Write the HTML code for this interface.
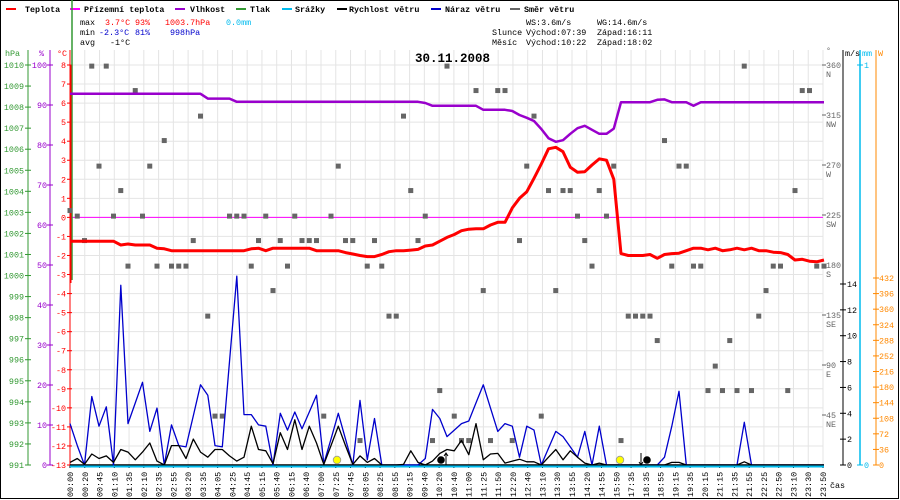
<!DOCTYPE html>
<html><head><meta charset="utf-8"><style>
html,body{margin:0;padding:0;background:#fff}
svg{display:block}
text{font-family:"Liberation Mono",monospace;font-size:8.4px}
</style></head><body>
<svg id="chart" width="900" height="500" viewBox="0 0 900 500" xmlns="http://www.w3.org/2000/svg">
<rect x="0.5" y="0.5" width="898" height="498" fill="#fff" stroke="#000"/>
<g id="grid"></g>
<g id="legend">
 <g><rect x="6" y="8" width="10" height="2" fill="#f00"/><text x="25" y="12" font-weight="bold">Teplota</text></g>
 <g><rect x="70" y="8" width="10" height="2" fill="#f0f"/><text x="84" y="12" font-weight="bold">Přízemní teplota</text></g>
 <g><rect x="175" y="8" width="10" height="2" fill="#9900cc"/><text x="190" y="12" font-weight="bold">Vlhkost</text></g>
 <g><rect x="236" y="8" width="10" height="2" fill="#339933"/><text x="250" y="12" font-weight="bold">Tlak</text></g>
 <g><rect x="282" y="8" width="10" height="2" fill="#00bbee"/><text x="295" y="12" font-weight="bold">Srážky</text></g>
 <g><rect x="337" y="8" width="10" height="2" fill="#000"/><text x="349" y="12" font-weight="bold">Rychlost větru</text></g>
 <g><rect x="431" y="8" width="10" height="2" fill="#0000cc"/><text x="445" y="12" font-weight="bold">Náraz větru</text></g>
 <g><rect x="510" y="8" width="10" height="2" fill="#666"/><text x="524" y="12" font-weight="bold">Směr větru</text></g>
</g>
<g>
 <text x="80" y="25">max</text><text x="105" y="25" fill="#f00">3.7°C</text><text x="135" y="25" fill="#f00">93%</text><text x="165" y="25" fill="#f00">1003.7hPa</text><text x="226" y="25" fill="#00bbee">0.0mm</text>
 <text x="80" y="35">min</text><text x="99" y="35" fill="#00c">-2.3°C</text><text x="135" y="35" fill="#00c">81%</text><text x="170" y="35" fill="#00c">998hPa</text>
 <text x="80" y="45">avg</text><text x="110" y="45">-1°C</text>
 <text x="526" y="25">WS:3.6m/s</text><text x="597" y="25">WG:14.6m/s</text>
 <text x="492" y="35">Slunce</text><text x="526" y="35">Východ:07:39</text><text x="597" y="35">Západ:16:11</text>
 <text x="492" y="45">Měsíc</text><text x="526" y="45">Východ:10:22</text><text x="597" y="45">Západ:18:02</text>
</g>
<text x="415" y="62" font-size="12.5" font-weight="bold" style="font-size:12.5px">30.11.2008</text>
<g id="axes"></g>
<g id="series"></g>
</svg>
<script>
const timeLabels=["00:00","00:20","00:45","01:10","01:35","02:10","02:35","02:55","03:20","03:35","04:05","04:25","04:45","05:15","05:40","06:15","06:40","07:00","07:25","07:45","08:05","08:25","08:55","09:15","09:40","10:20","10:40","11:00","11:25","11:50","12:20","12:40","13:10","13:30","13:55","14:20","14:55","15:50","17:35","18:35","18:55","19:15","19:35","20:15","21:15","21:35","21:55","22:25","22:50","23:10","23:30","23:50"];
const temperature=[-1.25,-1.25,-1.25,-1.25,-1.25,-1.25,-1.25,-1.45,-1.4,-1.45,-1.45,-1.45,-1.62,-1.65,-1.75,-1.75,-1.75,-1.75,-1.75,-1.75,-1.75,-1.75,-1.75,-1.75,-1.75,-1.65,-1.62,-1.75,-1.62,-1.62,-1.62,-1.62,-1.62,-1.62,-1.75,-1.75,-1.75,-1.75,-1.85,-1.92,-2.0,-2.06,-2.06,-1.95,-1.8,-1.75,-1.75,-1.72,-1.68,-1.5,-1.45,-1.25,-1.05,-0.9,-0.7,-0.62,-0.6,-0.6,-0.4,-0.26,-0.26,0.5,1.0,1.35,2.05,2.8,3.6,3.68,3.45,2.63,2.37,2.4,2.75,3.07,3.0,2.0,-1.9,-2.0,-2.0,-2.0,-1.95,-2.15,-1.95,-1.9,-1.88,-1.75,-1.62,-1.62,-1.7,-1.62,-1.75,-1.7,-1.62,-1.7,-1.62,-1.75,-1.75,-1.83,-1.85,-1.95,-2.24,-2.2,-2.3,-2.33,-2.24];
const humidity=[92.8,92.8,92.8,92.8,92.8,92.8,92.8,92.8,92.8,92.8,92.8,92.8,92.8,92.8,92.8,92.8,92.8,92.8,92.8,91.6,91.6,91.6,91.6,90.8,90.8,90.8,90.8,90.8,90.8,90.8,90.8,90.8,90.8,90.8,90.8,90.8,90.8,90.8,90.8,90.8,90.8,90.8,90.8,90.8,90.8,90.8,90.8,90.8,90.8,90.5,89.8,89.8,89.8,89.8,89.8,89.8,89.8,88.8,88.8,88.8,88.8,88.5,87.5,86.8,86,84,81.7,80.8,81.2,82.8,84.2,84.8,83.8,82.8,82.8,84.1,90.7,90.7,90.7,90.7,90.7,91.3,91.4,90.7,90.7,90.7,89.8,90.7,90.7,90.7,90.7,90.7,90.7,90.7,90.7,90.7,90.7,90.7,90.7,90.7,90.7,90.7,90.7,90.7,90.7];
const windSpeed=[0.2,0.5,0.05,0.85,0.5,0.7,0.2,1.2,1.0,0.4,1.0,1.7,0.3,0,1.5,1.5,0.5,2.0,1.0,0.6,1.2,1.2,0.7,0.3,0.6,3.0,1.2,1.1,0.1,2.5,1.2,3.5,1.2,3.0,1.7,0.05,1.5,3.0,1.5,0.05,0.7,0.2,0.5,0,0,0,0.05,1.1,0.2,0,0.3,0.9,1.2,1.1,1.9,0.8,3.2,0.4,0.85,0.9,0.15,0.3,0.45,0.25,0.25,0,0.6,1.2,0.4,1.1,0.6,0.15,0,0.15,0,0,0,0,0,0,0,0,0,0.2,0.2,0,0,0,0,0,0,0,0,0.25,0,0,0,0,0,0,0,0,0,0,0];
const windGust=[3.2,1.5,0,5.3,3.0,4.5,0,13.9,3.2,4.8,6.4,2.6,4.4,0,3.1,1.5,1.4,3.8,6.2,5.4,1.5,1.4,8,14.6,3.9,3.9,3.1,3.0,0,4,2.7,4.1,2.8,4.1,5.4,0.1,2,4,2,0,5,0.4,3.6,0,0,0,0,0,0,0.5,4.3,3.6,2.2,2.7,3.2,3.4,4.8,6.2,4.4,2.6,3.2,3,0.6,3,2.7,0,1.3,2.6,2.2,1.4,0.6,2.6,0,3,0,0,0,0,0,0,0,0,0.6,3.0,5.7,0,0,0,0,0,0,0,0,3.3,0,0,0,0,0,0,0,0,0,0,0];
const windDir=[229,224,202,359,269,359,224,247,179,337,224,269,179,292,179,179,179,202,314,134,44,44,224,224,224,179,202,224,157,202,179,224,202,202,202,44,224,269,202,202,22,179,202,179,134,134,314,247,202,224,22,67,359,44,22,22,337,157,22,337,337,22,202,269,314,44,247,157,247,247,224,202,179,247,224,269,22,134,134,134,134,112,292,179,269,269,179,179,67,89,67,112,67,359,67,134,157,179,179,67,247,337,337,179,179];
const tempTicks=[8,7,6,5,4,3,2,1,0,-1,-2,-3,-4,-5,-6,-7,-8,-9,-10,-11,-12,-13];
const humTicks=[100,90,80,70,60,50,40,30,20,10,0];
const pressTicks=[1010,1009,1008,1007,1006,1005,1004,1003,1002,1001,1000,999,998,997,996,995,994,993,992,991];
const dirTicks=[360,315,270,225,180,135,90,45];
const dirNames=["N","NW","W","SW","S","SE","E","NE"];
const msTicks=[0,2,4,6,8,10,12,14];
const wTicks=[0,36,72,108,144,180,216,252,288,324,360,396,432];

const NS="http://www.w3.org/2000/svg";
const X0=70,X1=824,YT=65,YB=465;
const nS=temperature.length;
const xs=k=>X0+k*(X1-X0)/(nS-1);
const xl=i=>X0+i*(823-X0)/(timeLabels.length-1);
const yT=v=>YT+(8-v)*(YB-YT)/21;
const yH=v=>YB-v*(YB-YT)/100;
const yP=v=>YT+(1010-v)*(YB-YT)/19;
const yD=v=>YB-v*(YB-YT)/360;
const yM=v=>YB-v*(YB-284)/14;
const yW=v=>YB-v*(YB-278)/432;
function mk(tag,attrs,parent,txt){const e=document.createElementNS(NS,tag);for(const k in attrs)e.setAttribute(k,attrs[k]);if(txt!==undefined)e.textContent=txt;parent.appendChild(e);return e;}
const grid=document.getElementById('grid'),axes=document.getElementById('axes'),ser=document.getElementById('series');

tempTicks.forEach(t=>{const l=mk('line',{x1:X0,x2:823,y1:yT(t),y2:yT(t),stroke:'#e4e4e4'},grid);

});
timeLabels.forEach((t,i)=>{const x=xl(i);const l=mk('line',{x1:x,x2:x,y1:50,y2:YB,stroke:'#e4e4e4'},grid);


const tk=mk('line',{x1:x,x2:x,y1:YB,y2:YB+3,stroke:'#000'},axes);


const tx=mk('text',{transform:`translate(${x+3},497) rotate(-90)`},axes,t);

});
const cas=mk('text',{x:830,y:488},axes,'čas');



// left axes
function vline(x,y1,y2,c,name,w){const l=mk('line',{x1:x,x2:x,y1:y1,y2:y2,stroke:c,'stroke-width':w||1},axes);}
vline(28,50,YB,'#339933','pressure-axis');
vline(50,50,YB,'#9900cc','humidity-axis');
vline(70,50,YB,'#f00','temperature-axis');
pressTicks.forEach(p=>{const y=yP(p);mk('line',{x1:25,x2:31,y1:y,y2:y,stroke:'#339933'},axes);
const t=mk('text',{x:24,y:y+3,'text-anchor':'end',fill:'#339933'},axes,p);

});
humTicks.forEach(h=>{const y=yH(h);mk('line',{x1:47,x2:53,y1:y,y2:y,stroke:'#9900cc'},axes);
const t=mk('text',{x:47,y:y+3,'text-anchor':'end',fill:'#9900cc'},axes,h);

});
tempTicks.forEach(v=>{const y=yT(v);mk('line',{x1:67,x2:72,y1:y,y2:y,stroke:'#f00'},axes);
const t=mk('text',{x:66,y:y+3,'text-anchor':'end',fill:'#f00'},axes,v);

});
mk('text',{x:5,y:56,fill:'#339933'},axes,'hPa');
mk('text',{x:39,y:56,fill:'#9900cc'},axes,'%');
mk('text',{x:57,y:56,fill:'#f00'},axes,'°C');
// right axes
dirTicks.forEach((d,i)=>{const y=yD(d);mk('line',{x1:822,x2:826,y1:y,y2:y,stroke:'#666'},axes);
const t=mk('text',{x:826,y:y+3,fill:'#666'},axes,d);


mk('text',{x:826,y:y+12,fill:'#666'},axes,dirNames[i]);});
mk('text',{x:826,y:53,fill:'#666'},axes,'°');
vline(843,50,YB,'#000','wind-speed-axis');
vline(860,50,YB,'#00bbee','precip-axis',1.5);
vline(876,50,YB,'#ff8800','radiation-axis');
mk('text',{x:845,y:56},axes,'m/s');mk('text',{x:862,y:56,fill:'#00bbee'},axes,'mm');mk('text',{x:878,y:56,fill:'#ff8800'},axes,'W');
msTicks.forEach(m=>{const y=yM(m);mk('line',{x1:840,x2:846,y1:y,y2:y,stroke:'#000'},axes);
const t=mk('text',{x:847,y:y+3},axes,m);

});
[0,1].forEach(m=>{const y=YB-m*(YB-YT);mk('line',{x1:857,x2:863,y1:y,y2:y,stroke:'#00bbee'},axes);mk('text',{x:864,y:y+3,fill:'#00bbee'},axes,m);});
wTicks.forEach(w=>{const y=yW(w);mk('line',{x1:873,x2:879,y1:y,y2:y,stroke:'#ff8800'},axes);
const t=mk('text',{x:879,y:y+3,fill:'#ff8800'},axes,w);

});

// series
const zero=mk('line',{x1:X0,x2:823,y1:yT(0),y2:yT(0),stroke:'#f0f','stroke-width':1},ser);


const edgeG=mk('line',{x1:72,x2:72,y1:0,y2:280,stroke:'#339933','stroke-width':1.5},ser);


const edgeR=mk('line',{x1:70.5,x2:70.5,y1:YT,y2:283,stroke:'#f00','stroke-width':2},ser);


windDir.forEach((d,k)=>{const r=mk('rect',{x:xs(k)-2.5,y:yD(d)-2.5,width:5,height:5,fill:'#666'},ser);

});
function poly(arr,fy,c,w,name){const p=mk('polyline',{points:arr.map((v,k)=>xs(k).toFixed(1)+','+fy(v).toFixed(1)).join(' '),fill:'none',stroke:c,'stroke-width':w,'stroke-linejoin':'round'},ser);

}
poly(humidity,yH,'#9900cc',2.5,'humidity-line');
poly(temperature,yT,'#f00',3,'temperature-line');
poly(windGust,yM,'#0000cc',1.3,'wind-gust-line');
poly(windSpeed,yM,'#000',1.3,'wind-speed-line');
const pr=mk('line',{x1:X0,x2:824,y1:466.5,y2:466.5,stroke:'#00bbee','stroke-width':2},ser);


const xa=mk('line',{x1:X0,x2:824,y1:YB,y2:YB,stroke:'#000','stroke-width':1.5},axes);


// sun / moon markers
[[337,'#ff0','sunrise-marker'],[620,'#ff0','sunset-marker']].forEach(m=>{const c=mk('circle',{cx:m[0],cy:460,r:3.8,fill:m[1],stroke:'#999','stroke-width':0.8},ser);

});
[[441,'moonrise-marker'],[647,'moonset-marker']].forEach(m=>{const c=mk('circle',{cx:m[0],cy:460,r:3.8,fill:'#000'},ser);

});
mk('path',{d:'M446 465 V453 M444 456 L446 453 L448 456',stroke:'#000',fill:'none','stroke-width':1},ser);
mk('path',{d:'M641 453 V465 M639 462 L641 465 L643 462',stroke:'#000',fill:'none','stroke-width':1},ser);
</script>
</body></html>
